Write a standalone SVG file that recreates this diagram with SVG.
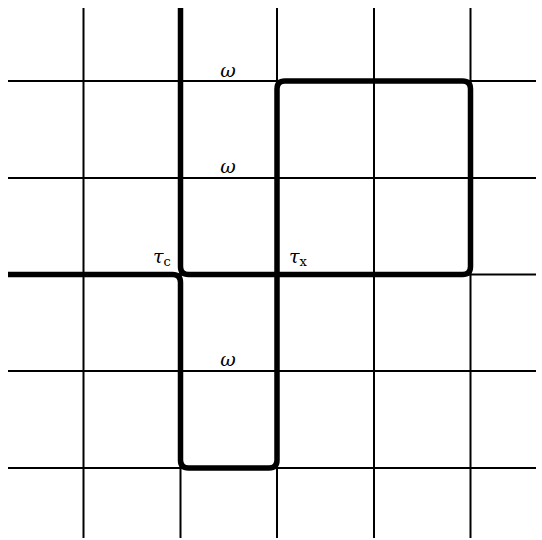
<svg xmlns="http://www.w3.org/2000/svg" width="542" height="540" viewBox="0 0 542 540">
<style>
.grid{stroke:#000;stroke-width:2;fill:none}
.thick{stroke:#000;stroke-width:5.5;fill:none;stroke-linejoin:round}
.lbl{font-family:"DejaVu Serif","Liberation Serif",serif;font-style:italic;font-size:19px;fill:#000}
.sub{font-family:"DejaVu Serif","Liberation Serif",serif;font-style:normal;font-size:13px;fill:#000}
</style>
<rect width="542" height="540" fill="#fff"/>
<g id="grid">
<line class="grid" x1="83.5" y1="8" x2="83.5" y2="538"/>
<line class="grid" x1="180.5" y1="8" x2="180.5" y2="538"/>
<line class="grid" x1="277" y1="8" x2="277" y2="538"/>
<line class="grid" x1="374" y1="8" x2="374" y2="538"/>
<line class="grid" x1="470.5" y1="8" x2="470.5" y2="538"/>
<line class="grid" x1="8" y1="81" x2="536" y2="81"/>
<line class="grid" x1="8" y1="178" x2="536" y2="178"/>
<line class="grid" x1="8" y1="274.5" x2="536" y2="274.5"/>
<line class="grid" x1="8" y1="371" x2="536" y2="371"/>
<line class="grid" x1="8" y1="468" x2="536" y2="468"/>
</g>
<g id="connectors">
<path class="thick" d="M180.5 8 V266.5 Q180.5 274.5 188.5 274.5 H462.5 Q470.5 274.5 470.5 266.5 V89 Q470.5 81 462.5 81 H285 Q277 81 277 89 V460 Q277 468 269 468 H188.5 Q180.5 468 180.5 460 V282.5 Q180.5 274.5 172.5 274.5 H8"/>
</g>
<g id="labels">
<text class="lbl" x="228" y="77" text-anchor="middle">ω</text>
<text class="lbl" x="228" y="173" text-anchor="middle">ω</text>
<text class="lbl" x="228" y="366" text-anchor="middle">ω</text>
<text class="lbl" x="153" y="263">τ<tspan class="sub" dy="3">c</tspan></text>
<text class="lbl" x="289" y="263">τ<tspan class="sub" dy="3">x</tspan></text>
</g>
</svg>
